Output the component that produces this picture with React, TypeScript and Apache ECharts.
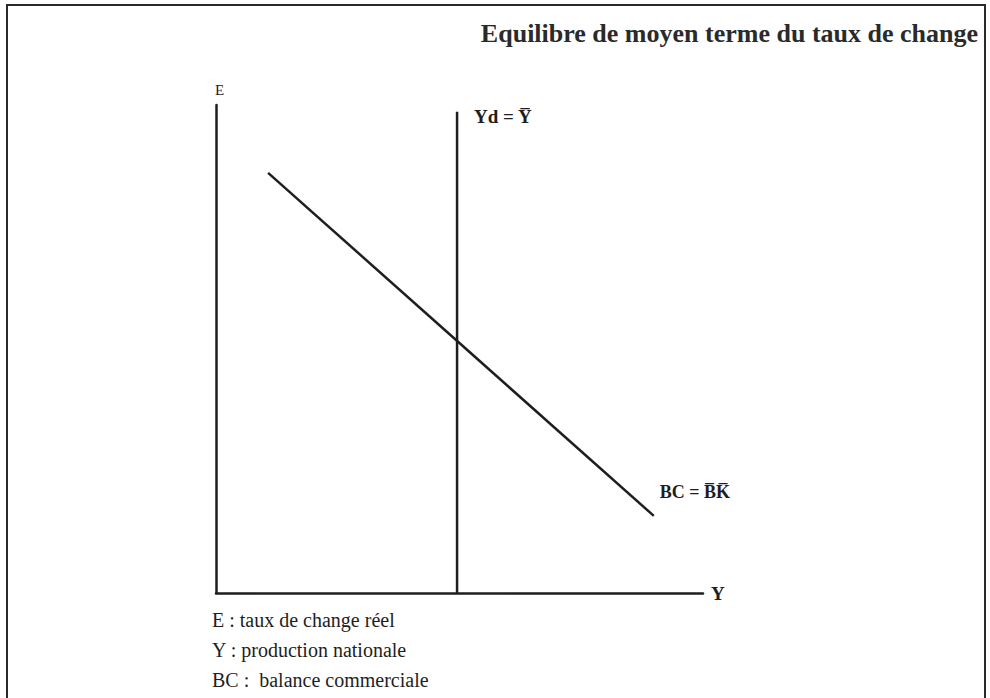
import React, { useEffect, useRef } from "react";
import * as echarts from "echarts";

const titleText = "Equilibre de moyen terme du taux de change";
const legendLines = ["E : taux de change réel", "Y : production nationale", "BC :  balance commerciale"];
const verticalLine: [number, number][] = [[49.5, 0], [49.5, 98.6]];
const bcLine: [number, number][] = [[10.7, 86.1], [89.9, 15.8]];
const xName = "Y";
const yName = "E";
const ydLabel = "Yd = Y\u0305";
const bcLabel = "BC = B\u0305K\u0305";

export default function App() {
  const ref = useRef<HTMLDivElement>(null);
  useEffect(() => {
    if (!ref.current) return;
    const chart = echarts.init(ref.current, undefined, { renderer: "svg" });
    const serif = "Liberation Serif";
    chart.setOption({
      animation: false,
      backgroundColor: "#ffffff",
      grid: { left: 216, top: 105, width: 487, height: 488, containLabel: false },
      xAxis: {
        type: "value", min: 0, max: 100,
        axisLine: { show: true, lineStyle: { color: "#1e1e1e", width: 2.5 } },
        axisTick: { show: false }, axisLabel: { show: false }, splitLine: { show: false },
        name: xName, nameLocation: "end", nameGap: 8,
        nameTextStyle: { fontFamily: serif, fontWeight: "bold", fontSize: 19, color: "#1e1e1e", verticalAlign: "middle" },
      },
      yAxis: {
        type: "value", min: 0, max: 100,
        axisLine: { show: true, lineStyle: { color: "#1e1e1e", width: 2.5 } },
        axisTick: { show: false }, axisLabel: { show: false }, splitLine: { show: false },
        name: yName, nameLocation: "end", nameGap: 8,
        nameTextStyle: { fontFamily: serif, fontSize: 15, color: "#1e1e1e", align: "left", padding: [0, 0, 0, -1] },
      },
      series: [
        {
          type: "line", data: verticalLine, showSymbol: false, symbol: "none",
          lineStyle: { color: "#1e1e1e", width: 2.5 },
          endLabel: {
            show: true, formatter: ydLabel, distance: 17, offset: [0, 5],
            fontFamily: serif, fontWeight: "bold", fontSize: 19, color: "#1e1e1e",
          },
        },
        {
          type: "line", data: bcLine, showSymbol: false, symbol: "none",
          lineStyle: { color: "#1e1e1e", width: 2.5 },
          endLabel: {
            show: true, formatter: bcLabel, distance: 6, offset: [0, -24],
            fontFamily: serif, fontWeight: "bold", fontSize: 18, color: "#1e1e1e",
          },
        },
      ],
      graphic: [
        {
          type: "rect", shape: { x: 7, y: 5, width: 978, height: 720 },
          style: { fill: "none", stroke: "#2a2a2a", lineWidth: 2 }, silent: true,
        },
        {
          type: "text", right: 12, top: 20,
          style: { text: titleText, fontFamily: serif, fontWeight: "bold", fontSize: 26, fill: "#2a2a2a" },
        },
        ...legendLines.map((t, i) => ({
          type: "text", left: 212, top: 610 + i * 30,
          style: { text: t, fontFamily: serif, fontSize: 20, fill: "#1e1e1e" },
        })),
      ],
    });
    return () => chart.dispose();
  }, []);
  return <div ref={ref} style={{ position: "absolute", left: 0, top: 0, width: 990, height: 698 }} />;
}
